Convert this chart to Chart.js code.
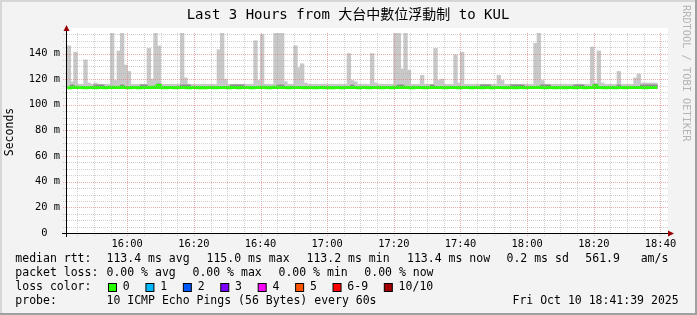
<!DOCTYPE html>
<html>
<head>
<meta charset="utf-8">
<script src="https://cdn.jsdelivr.net/npm/chart.js@4.4.1/dist/chart.umd.min.js"></script>
<style>
  html, body { margin: 0; padding: 0; background: #f3f3f3; }
  canvas { display: block; }
</style>
</head>
<body>
<canvas id="chart" width="697" height="315"></canvas>
<script>
// --- data ---
const title = 'Last 3 Hours from 大台中數位浮動制 to KUL';
const startTime = '15:41:39';
const endTime = '18:41:39';
const firstBin = '15:42';          // one bin per minute
const xTickLabels = ['16:00', '16:20', '16:40', '17:00', '17:20', '17:40', '18:00', '18:20', '18:40'];
const yTicks = [0, 20, 40, 60, 80, 100, 120, 140];
const yMax = 156;

// top of the smoke (slowest ping) per minute, ms
const smokeMax = [
  146,118,141,116,116,135,117,116,117,116,
  116,116,116,157,119,142,157,131,126,116,
  116,116,116,116,144,120,157,146,116,116,
  116,116,116,116,157,121,116,116,116,116,
  116,116,116,116,116,143,157,120,116,116,
  116,116,116,116,116,116,150,119,155,116,
  116,116,157,157,157,118,116,116,146,129,
  132,117,116,116,116,116,116,116,116,116,
  116,116,116,116,140,119,118,116,116,116,
  116,140,117,116,116,116,116,116,157,157,
  128,157,127,116,116,116,123,116,116,116,
  144,119,120,116,116,116,139,117,141,116,
  116,116,116,116,116,116,116,116,116,123,
  119,116,116,116,116,116,116,116,116,116,
  148,156,119,116,116,116,116,116,116,116,
  116,116,116,116,116,116,116,145,117,142,
  117,116,116,116,116,126,116,116,116,116,
  121,124,117,117,117,117,117
];
const smokeMin = 112.8;

// darker smoke patches: bin index and top value
const darkBins = [1, 8, 9, 10, 16, 22, 23, 27, 34, 35, 36, 49, 50, 51, 52, 63, 64, 85, 99, 100, 109,
                  124, 125, 126, 133, 134, 135, 136, 142, 143, 144, 152, 153, 154, 158, 165, 172, 173, 174, 175, 176];
const darkTops = [115.5, 115.5, 115.5, 115.5, 115.5, 115.5, 115.5, 116.3, 115.5, 115.5, 115.5, 115.5, 115.5, 115.5, 115.5,
                  115.5, 115.5, 115.5, 115.5, 115.5, 115.5, 115.5, 115.5, 115.5, 115.5, 115.5, 115.5, 115.5, 115.5,
                  115.5, 115.5, 115.5, 115.5, 115.5, 116.0, 115.5, 115.5, 115.5, 115.5, 115.5, 115.5];

// median rtt per minute, ms
const median = [
  113.3,113.5,113.6,113.4,113.4,113.3,113.4,113.5,113.3,113.4,
  113.4,113.3,113.4,113.6,113.4,113.5,113.6,113.4,113.3,113.4,
  113.4,113.3,113.5,113.4,113.4,113.6,113.5,115.0,113.4,113.3,
  113.4,113.4,113.3,113.4,113.5,113.4,113.3,113.4,113.4,113.2,
  113.4,113.3,113.4,113.4,113.3,113.5,113.4,113.4,113.3,113.4,
  113.4,113.3,113.4,113.4,113.4,113.3,113.5,113.4,113.6,113.4,
  113.3,113.4,113.6,113.5,113.4,113.4,113.3,113.4,113.5,113.4,
  113.4,113.3,113.4,113.4,113.3,113.4,113.4,113.2,113.4,113.3,
  113.4,113.4,113.3,113.4,113.4,113.5,113.4,113.3,113.4,113.4,
  113.3,113.5,113.4,113.4,113.3,113.4,113.4,113.3,113.6,113.5,
  113.4,113.6,113.4,113.3,113.4,113.4,113.4,113.3,113.4,113.4,
  113.5,113.4,113.4,113.3,113.4,113.4,113.4,113.3,113.5,113.4,
  113.4,113.3,113.4,113.4,113.3,113.4,113.4,113.3,113.4,113.4,
  113.4,113.3,113.4,113.4,113.3,113.4,113.4,113.3,113.4,113.4,
  113.5,113.6,113.4,113.3,113.4,113.4,113.3,113.4,113.4,113.3,
  113.4,113.4,113.3,113.4,113.4,113.3,113.4,113.5,114.6,113.5,
  113.4,113.3,113.4,113.4,113.3,113.4,113.4,113.3,113.4,113.4,
  113.4,113.5,113.4,113.3,113.4,113.4,113.4
];

const rttStats = ['113.4 ms avg', '115.0 ms max', '113.2 ms min', '113.4 ms now', '0.2 ms sd', '561.9   am/s'];
const lossStats = ['0.00 % avg', '0.00 % max', '0.00 % min', '0.00 % now'];
const lossLabels = ['0', '1', '2', '3', '4', '5', '6-9', '10/10'];
const lossColors = ['#26ff00', '#00b8ff', '#0059ff', '#7e00ff', '#ff00ff', '#ff5500', '#ff0000', '#a10000'];
const probeText = '10 ICMP Echo Pings (56 Bytes) every 60s';
const stamp = 'Fri Oct 10 18:41:39 2025';

// --- helpers ---
const toMin = s => { const p = s.split(':').map(Number); return p[0] * 60 + p[1] + (p[2] || 0) / 60; };
const fmt = m => String(Math.floor(m / 60)).padStart(2, '0') + ':' + String(Math.round(m % 60)).padStart(2, '0');
const mono = "'DejaVu Sans Mono', 'Noto Sans CJK TC', monospace";
const binStart = toMin(firstBin);

const smokeData = smokeMax.map((v, i) => ({ x: binStart + i + 0.5, y: [smokeMin, v] }));
const darkData = darkBins.map((b, k) => ({ x: binStart + b + 0.5, y: [smokeMin, darkTops[k]] }));
const medianData = median.map((v, i) => ({ x: binStart + i, y: v }));
medianData.push({ x: binStart + median.length, y: median.at(-1) });

const MINOR = 'rgba(170,170,170,0.55)';
const MAJOR = 'rgba(225,120,120,0.6)';

const rrdPlugin = {
  id: 'rrd',
  beforeDraw(chart) {
    const { ctx, chartArea: a } = chart;
    ctx.save();
    ctx.fillStyle = '#f3f3f3';
    ctx.fillRect(0, 0, chart.width, chart.height);
    ctx.fillStyle = '#ffffff';
    ctx.fillRect(a.left, a.top - 5, a.right - a.left + 2, a.bottom - a.top + 5);
    ctx.restore();
  },
  afterDatasetsDraw(chart) {
    const { ctx, chartArea: a, scales: { x, y } } = chart;
    ctx.save();
    ctx.lineWidth = 1;
    ctx.setLineDash([1, 1]);
    for (let m = Math.ceil(x.min / 5) * 5; m <= x.max; m += 5) {
      const px = Math.round(x.getPixelForValue(m)) + 0.5;
      ctx.strokeStyle = (m % 20 === 0) ? MAJOR : MINOR;
      ctx.beginPath(); ctx.moveTo(px, a.top); ctx.lineTo(px, a.bottom + 3); ctx.stroke();
    }
    for (let v = 5; v <= y.max; v += 5) {
      const py = Math.round(y.getPixelForValue(v)) + 0.5;
      ctx.strokeStyle = (v % 20 === 0) ? MAJOR : MINOR;
      ctx.beginPath(); ctx.moveTo(a.left - 3, py); ctx.lineTo(a.right + 2, py); ctx.stroke();
    }
    ctx.restore();
  },
  afterDraw(chart) {
    const { ctx, chartArea: a } = chart;
    ctx.save();
    // axes
    ctx.strokeStyle = '#000';
    ctx.lineWidth = 1;
    ctx.beginPath();
    ctx.moveTo(a.left - 4, a.bottom + 0.5); ctx.lineTo(a.right + 4, a.bottom + 0.5);
    ctx.moveTo(a.left + 0.5, a.bottom + 4); ctx.lineTo(a.left + 0.5, a.top - 3);
    ctx.stroke();
    ctx.fillStyle = '#9b0000';
    ctx.beginPath();
    ctx.moveTo(a.right + 8, a.bottom + 0.5); ctx.lineTo(a.right + 2, a.bottom - 2.5); ctx.lineTo(a.right + 2, a.bottom + 3.5);
    ctx.closePath(); ctx.fill();
    ctx.beginPath();
    ctx.moveTo(a.left + 0.5, a.top - 8); ctx.lineTo(a.left - 2.5, a.top - 2); ctx.lineTo(a.left + 3.5, a.top - 2);
    ctx.closePath(); ctx.fill();

    // title
    ctx.fillStyle = '#000';
    ctx.textBaseline = 'middle';
    ctx.textAlign = 'center';
    ctx.font = '14px ' + mono;
    ctx.fillText(title, 348, 15);

    // y axis unit
    ctx.save();
    ctx.translate(10.5, 132);
    ctx.rotate(-Math.PI / 2);
    ctx.font = '11.5px ' + mono;
    ctx.fillText('Seconds', 0, 0);
    ctx.restore();

    // watermark
    ctx.save();
    ctx.translate(686, 5);
    ctx.rotate(Math.PI / 2);
    ctx.textAlign = 'left';
    ctx.fillStyle = '#b4b4b4';
    ctx.font = '10.3px ' + mono;
    ctx.fillText('RRDTOOL / TOBI OETIKER', 0, 0);
    ctx.restore();

    // legend
    ctx.textAlign = 'left';
    ctx.font = '11.5px ' + mono;
    const rows = [259.5, 273.5, 287.5, 301.5];
    const col = 106.5;
    ctx.fillText('median rtt:', 15.3, rows[0]);
    [col, 206.5, 306.5, 407, 506.5, 585.3].forEach((px, k) => ctx.fillText(rttStats[k], px, rows[0]));
    ctx.fillText('packet loss:', 15.3, rows[1]);
    [col, 192.5, 278.5, 364.3].forEach((px, k) => ctx.fillText(lossStats[k], px, rows[1]));
    ctx.fillText('loss color:', 15.3, rows[2]);
    const cw = ctx.measureText('0').width;
    let bx = 108.5;
    lossLabels.forEach((lab, k) => {
      ctx.fillStyle = lossColors[k];
      ctx.fillRect(bx, 283.5, 8, 8);
      ctx.strokeStyle = '#000';
      ctx.strokeRect(bx, 283.5, 8, 8);
      ctx.fillStyle = '#000';
      ctx.fillText(lab, bx + 14.3, rows[2]);
      bx = bx + 15 + lab.length * cw + 15.5;
    });
    ctx.fillText('probe:', 15.3, rows[3]);
    ctx.fillText(probeText, col, rows[3]);
    ctx.fillText(stamp, 512.5, rows[3]);

    // frame
    ctx.fillStyle = '#d6d6d6';
    ctx.fillRect(0, 0, chart.width, 2);
    ctx.fillRect(0, 0, 2, chart.height);
    ctx.fillStyle = '#a0a0a0';
    ctx.fillRect(0, chart.height - 2, chart.width, 2);
    ctx.fillRect(chart.width - 2, 0, 2, chart.height);
    ctx.restore();
  }
};

new Chart(document.getElementById('chart'), {
  type: 'bar',
  data: {
    datasets: [
      { type: 'line', label: 'median', data: medianData, order: 0, stepped: true,
        borderColor: '#26ff00', borderWidth: 3, pointRadius: 0, fill: false, borderCapStyle: 'butt' },
      { label: 'dark smoke', data: darkData, order: 1, grouped: false, backgroundColor: '#8c8c8c',
        borderWidth: 0, barThickness: 3.7 },
      { label: 'smoke', data: smokeData, order: 2, grouped: false, backgroundColor: '#c8c8c8',
        borderWidth: 0, barThickness: 3.7 }
    ]
  },
  options: {
    responsive: false,
    devicePixelRatio: 1,
    animation: false,
    layout: { padding: { top: 33, right: 31, bottom: 0, left: 0 } },
    plugins: { legend: { display: false }, title: { display: false }, tooltip: { enabled: false } },
    scales: {
      x: {
        type: 'linear', min: toMin(startTime), max: toMin(endTime), offset: false,
        grid: { display: false, drawTicks: false }, border: { display: false },
        afterBuildTicks: s => { s.ticks = xTickLabels.map(l => ({ value: toMin(l) })); },
        afterFit: s => { s.height = 82; },
        ticks: { autoSkip: false, maxRotation: 0, padding: 5, color: '#000',
                 font: { family: mono, size: 10.4 }, callback: v => fmt(v) }
      },
      y: {
        min: 0, max: yMax,
        grid: { display: false, drawTicks: false }, border: { display: false },
        afterBuildTicks: s => { s.ticks = yTicks.map(v => ({ value: v })); },
        afterFit: s => { s.width = 66; },
        ticks: { padding: 6, color: '#000', font: { family: mono, size: 10.4 },
                 callback: v => v === 0 ? '0  ' : v + ' m' }
      }
    }
  },
  plugins: [rrdPlugin]
});
</script>
</body>
</html>
